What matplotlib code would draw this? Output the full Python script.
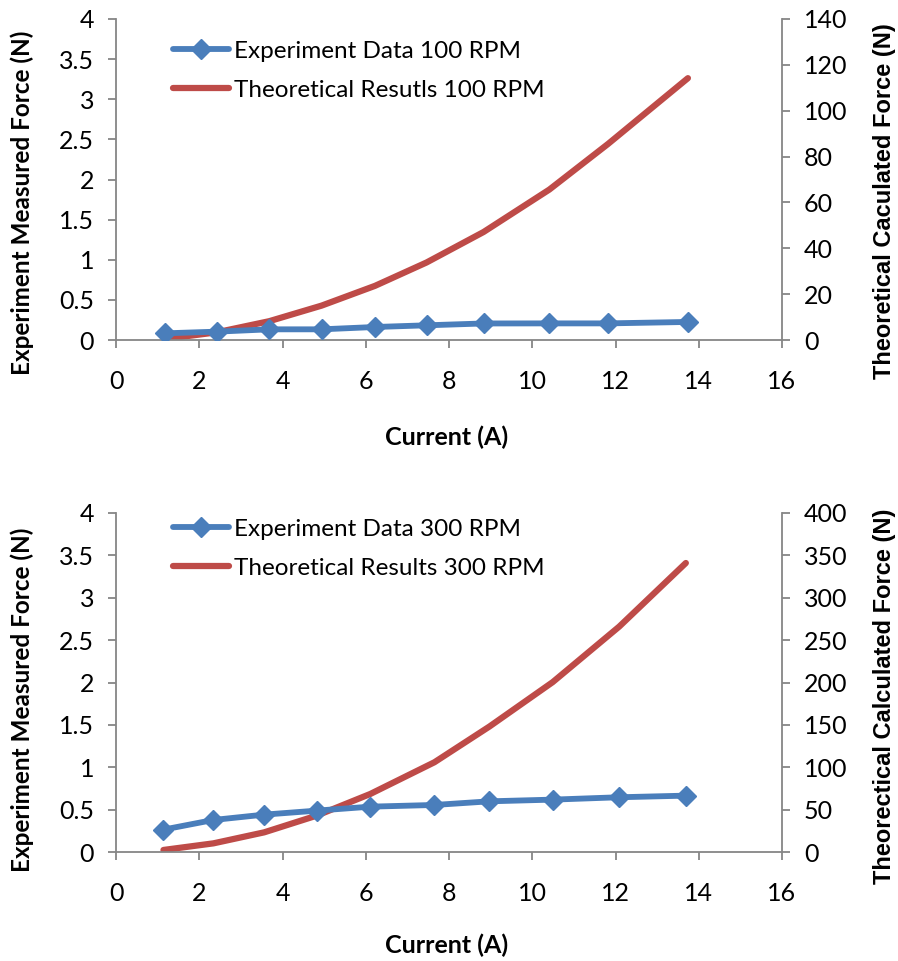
import matplotlib
matplotlib.use("Agg")
import matplotlib.pyplot as plt

# ---- data ----
current_100 = [1.17, 2.42, 3.68, 4.94, 6.22, 7.46, 8.83, 10.41, 11.82, 13.74]
exp_100 = [0.083, 0.104, 0.133, 0.133, 0.162, 0.183, 0.206, 0.207, 0.207, 0.225]
theo_100 = [0.44, 3.35, 8.2, 15.0, 23.6, 33.8, 47.1, 65.6, 85.5, 114.2]

current_300 = [1.14, 2.34, 3.56, 4.82, 6.11, 7.65, 8.97, 10.49, 12.09, 13.69]
exp_300 = [0.264, 0.378, 0.441, 0.488, 0.535, 0.555, 0.598, 0.618, 0.646, 0.665]
theo_300 = [2.4, 10.2, 23.2, 42.9, 68.5, 105.9, 148.0, 200.4, 266.0, 341.0]

x_ticks = [0, 2, 4, 6, 8, 10, 12, 14, 16]
left_ticks = [0, 0.5, 1, 1.5, 2, 2.5, 3, 3.5, 4]
left_labels = ["0", "0.5", "1", "1.5", "2", "2.5", "3", "3.5", "4"]
right_ticks_100 = [0, 20, 40, 60, 80, 100, 120, 140]
right_ticks_300 = [0, 50, 100, 150, 200, 250, 300, 350, 400]

labels_top = ("Experiment Data 100 RPM", "Theoretical Resutls 100 RPM",
              "Theoretical Caculated Force (N)")
labels_bot = ("Experiment Data 300 RPM", "Theoretical Results 300 RPM",
              "Theorectical Calculated Force (N)")

BLUE = "#4A7EBB"
RED = "#BE4B48"
GRAY = "#868686"
FONT = ["Lato", "DejaVu Sans"]
RFONT = ["Liberation Sans", "DejaVu Sans"]

W, H = 898, 961
fig = plt.figure(figsize=(W / 100, H / 100), dpi=100)


def make_panel(top_px, bot_px, cur, exp, theo, rticks, labels, xlab_y,
               lab_left_y, lab_right_y, leg_top_y):
    left_px, right_px = 116, 782
    wpx = right_px - left_px
    hpx = bot_px - top_px
    ax = fig.add_axes([left_px / W, 1 - bot_px / H, wpx / W, hpx / H])
    ax2 = ax.twinx()
    l1, = ax.plot(cur, exp, color=BLUE, lw=4.2, marker="D", ms=10.5,
                  markeredgecolor=BLUE, zorder=3, solid_capstyle="round",
                  label=labels[0])
    l2, = ax2.plot(cur, theo, color=RED, lw=4.5, solid_capstyle="round",
                   label=labels[1])
    ax.set_zorder(ax2.get_zorder() + 1)
    ax.patch.set_visible(False)

    ax.set_xlim(0, 16)
    ax.set_ylim(0, 4)
    ax2.set_ylim(0, rticks[-1])
    ax.set_xticks(x_ticks)
    ax.set_xticklabels([str(t) for t in x_ticks], family=FONT, fontsize=18)
    ax.set_yticks(left_ticks)
    ax.set_yticklabels(left_labels, family=FONT, fontsize=18)
    ax2.set_yticks(rticks)
    ax2.set_yticklabels([str(t) for t in rticks], family=FONT, fontsize=18)

    for a in (ax, ax2):
        for s in a.spines.values():
            s.set_color(GRAY)
            s.set_linewidth(1.3)
        a.spines["top"].set_visible(False)
        a.tick_params(colors=GRAY, labelcolor="black", length=5.8, width=1.3,
                      direction="out", pad=10)
    ax.tick_params(axis="x", pad=16)
    ax.spines["right"].set_visible(False)
    ax2.spines["left"].set_visible(False)
    ax2.spines["bottom"].set_visible(False)

    ax.set_ylabel("Experiment Measured Force (N)", family=FONT,
                  fontweight="bold", fontsize=17.5, va="center")
    ax2.set_ylabel(labels[2], family=RFONT, fontweight="bold", fontsize=17,
                   va="center")
    ax.yaxis.set_label_coords((22 - left_px) / wpx,
                              (bot_px - lab_left_y) / hpx)
    ax2.yaxis.set_label_coords((884 - left_px) / wpx,
                               (bot_px - lab_right_y) / hpx)
    fig.text(447 / W, 1 - xlab_y / H, "Current (A)", family=FONT,
             fontweight="bold", fontsize=18, ha="center", va="center")

    ax.legend([l1, l2], [labels[0], labels[1]], loc="upper left",
              bbox_to_anchor=(0.071, (bot_px - leg_top_y) / hpx),
              frameon=False,
              prop={"family": FONT, "size": 17.5}, handlelength=2.3,
              handletextpad=0.2, labelspacing=0.75, borderaxespad=0)
    return ax, ax2


make_panel(19, 340, current_100, exp_100, theo_100, right_ticks_100,
           labels_top, 437, 203, 201, 31)
make_panel(513, 852, current_300, exp_300, theo_300, right_ticks_300,
           labels_bot, 945, 700, 696, 509)

fig.savefig("out.png", dpi=100)
